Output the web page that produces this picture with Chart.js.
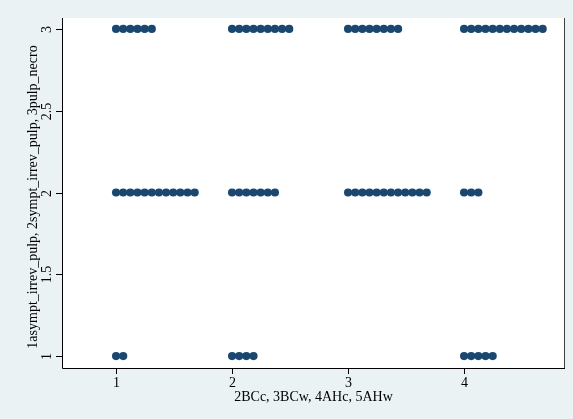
<!DOCTYPE html>
<html>
<head>
<meta charset="utf-8">
<script src="https://cdn.jsdelivr.net/npm/chart.js@4.4.1/dist/chart.umd.min.js"></script>
<style>
  html, body { margin: 0; padding: 0; background: #eaf2f3; }
  #wrap { width: 573px; height: 419px; }
</style>
</head>
<body>
<div id="wrap"><canvas id="c" width="573" height="419"></canvas></div>
<script>
// Groups on the x axis (2BCc, 3BCw, 4AHc, 5AHw coded 1..4)
const groups = [1, 2, 3, 4];
// Outcome levels on the y axis
const levels = [1, 2, 3];
// Number of observations per group at each level
const countsLevel1 = [2, 4, 0, 5];
const countsLevel2 = [12, 7, 12, 3];
const countsLevel3 = [6, 9, 8, 12];
const xTicks = [1, 2, 3, 4];
const yTicks = [1, 1.5, 2, 2.5, 3];
const xTitle = '2BCc, 3BCw, 4AHc, 5AHw';
const yTitle = '1asympt_irrev_pulp, 2sympt_irrev_pulp, 3pulp_necro';

// Dot-plot stacking: observations sharing a value are laid side by side
const stackStep = 0.0616;
const countsByLevel = [countsLevel1, countsLevel2, countsLevel3];
const points = [];
groups.forEach((g, gi) => {
  levels.forEach((lv, li) => {
    const n = countsByLevel[li][gi];
    for (let k = 0; k < n; k++) points.push({ x: g + k * stackStep, y: lv });
  });
});

const FONT = '"Liberation Serif", "Times New Roman", serif';

const axesPlugin = {
  id: 'statAxes',
  beforeDraw(chart) {
    const { ctx, chartArea: a } = chart;
    ctx.save();
    ctx.fillStyle = '#eaf2f3';
    ctx.fillRect(0, 0, chart.width, chart.height);
    ctx.fillStyle = '#ffffff';
    ctx.fillRect(a.left, a.top, a.right - a.left, a.bottom - a.top);
    ctx.restore();
  },
  afterDraw(chart) {
    const { ctx, chartArea: a, scales } = chart;
    const xs = scales.x, ys = scales.y;
    ctx.save();
    ctx.strokeStyle = '#000000';
    ctx.lineWidth = 1;
    ctx.fillStyle = '#000000';
    // axis lines
    ctx.beginPath();
    ctx.moveTo(a.left + 0.5, a.top);
    ctx.lineTo(a.left + 0.5, a.bottom + 0.5);
    ctx.lineTo(a.right, a.bottom + 0.5);
    ctx.stroke();
    // right edge of plot region
    ctx.strokeStyle = '#404040';
    ctx.beginPath();
    ctx.moveTo(a.right - 0.5, a.top);
    ctx.lineTo(a.right - 0.5, a.bottom);
    ctx.stroke();
    ctx.strokeStyle = '#000000';
    ctx.font = '14px ' + FONT;
    // x ticks
    ctx.textAlign = 'center';
    ctx.textBaseline = 'middle';
    xTicks.forEach(v => {
      const px = Math.round(xs.getPixelForValue(v)) + 0.5;
      ctx.beginPath();
      ctx.moveTo(px, a.bottom);
      ctx.lineTo(px, a.bottom + 6);
      ctx.stroke();
      ctx.fillText(String(v), px, a.bottom + 15);
    });
    ctx.fillText(xTitle, (a.left + a.right) / 2, a.bottom + 29);
    // y ticks, labels turned to read upward
    yTicks.forEach(v => {
      const py = Math.round(ys.getPixelForValue(v)) + 0.5;
      ctx.beginPath();
      ctx.moveTo(a.left - 6, py);
      ctx.lineTo(a.left, py);
      ctx.stroke();
      ctx.save();
      ctx.translate(a.left - 15, py);
      ctx.rotate(-Math.PI / 2);
      ctx.fillText(String(v), 0, 0);
      ctx.restore();
    });
    ctx.save();
    ctx.translate(a.left - 29, (a.top + a.bottom) / 2 + 4);
    ctx.rotate(-Math.PI / 2);
    ctx.fillText(yTitle, 0, 0);
    ctx.restore();
    ctx.restore();
  }
};

new Chart(document.getElementById('c'), {
  type: 'scatter',
  data: {
    datasets: [{
      data: points,
      backgroundColor: '#1a476f',
      borderColor: '#1a476f',
      borderWidth: 0,
      pointRadius: 4.1,
      pointHoverRadius: 4.1
    }]
  },
  options: {
    responsive: false,
    animation: false,
    events: [],
    layout: { padding: { left: 62, right: 8, top: 18, bottom: 51 } },
    plugins: { legend: { display: false }, tooltip: { enabled: false } },
    scales: {
      x: { type: 'linear', min: 0.534, max: 4.87, display: false },
      y: { type: 'linear', min: 0.927, max: 3.067, display: false }
    }
  },
  plugins: [axesPlugin]
});
</script>
</body>
</html>
